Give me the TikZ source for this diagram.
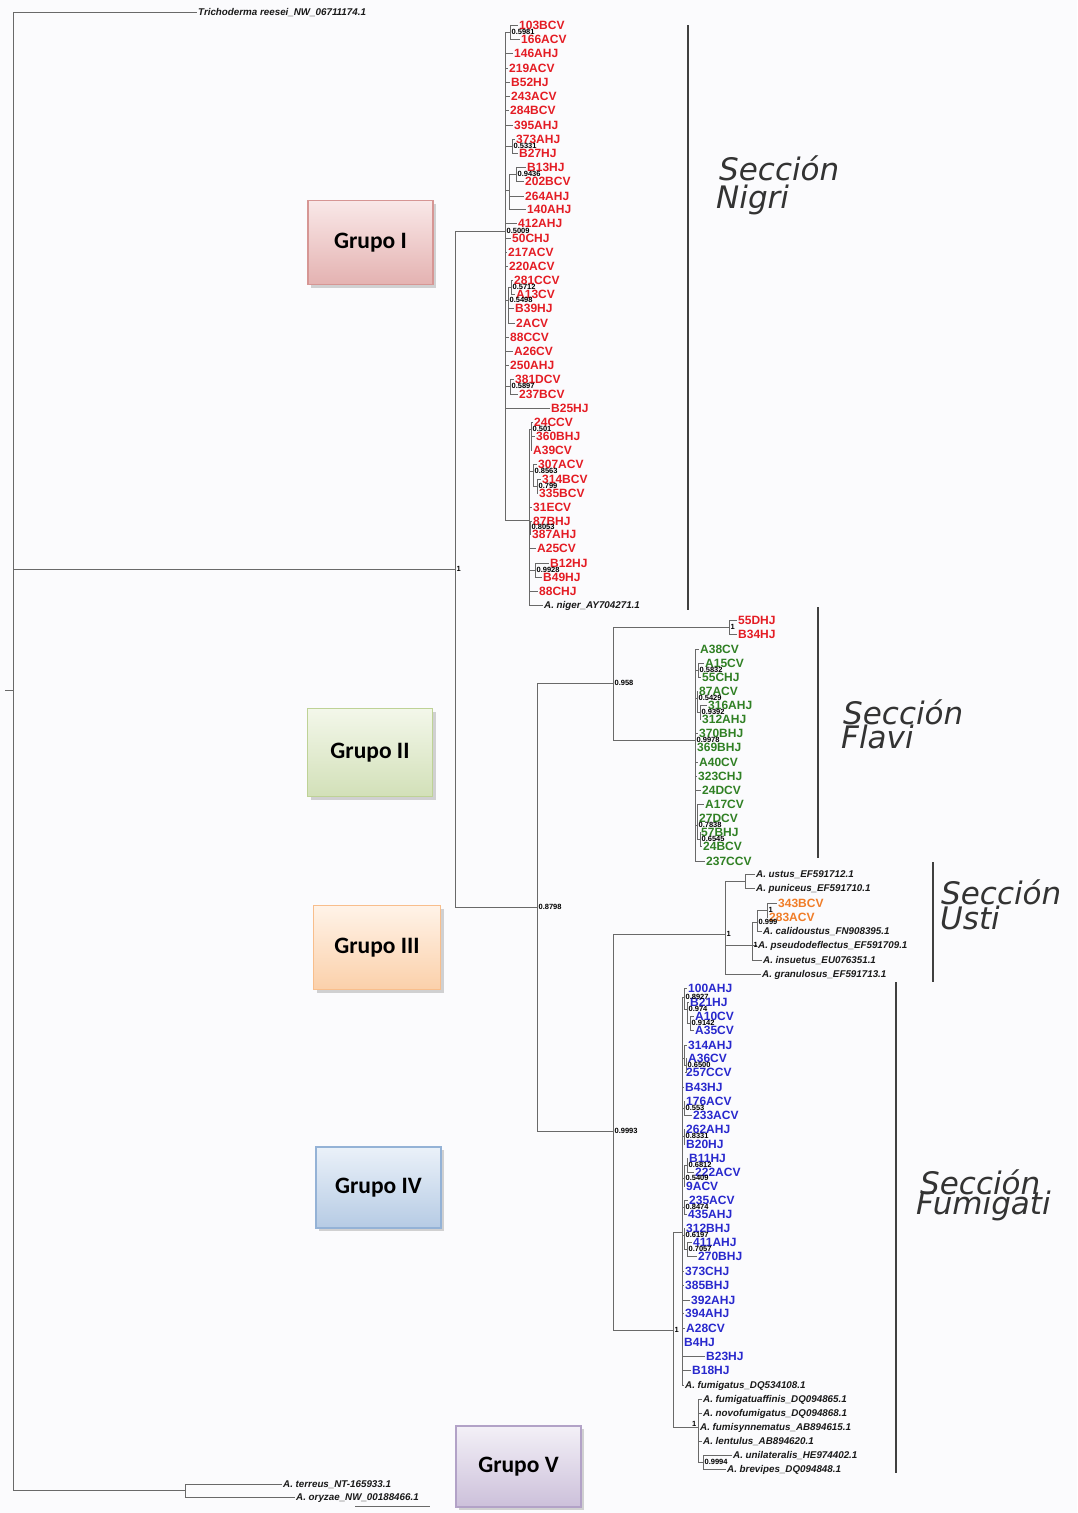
\documentclass[tikz,border=0pt]{standalone}
\usepackage{fontspec}
\setmainfont{Liberation Sans}
\newfontfamily\grupofont{Carlito}
\newfontfamily\seccfont{DejaVu Sans}
\usetikzlibrary{shadows}

\definecolor{paper}{RGB}{251,251,253}
\definecolor{treegray}{RGB}{105,105,105}
\definecolor{isored}{RGB}{228,28,36}
\definecolor{isogreen}{RGB}{48,128,36}
\definecolor{isoblue}{RGB}{40,40,205}
\definecolor{isoorange}{RGB}{240,125,40}
\definecolor{g1top}{RGB}{249,232,232}\definecolor{g1bot}{RGB}{228,178,177}\definecolor{g1line}{RGB}{214,150,148}
\definecolor{g2top}{RGB}{243,247,234}\definecolor{g2bot}{RGB}{210,224,184}\definecolor{g2line}{RGB}{190,210,150}
\definecolor{g3top}{RGB}{255,243,232}\definecolor{g3bot}{RGB}{251,208,170}\definecolor{g3line}{RGB}{248,190,140}
\definecolor{g4top}{RGB}{234,241,249}\definecolor{g4bot}{RGB}{182,203,228}\definecolor{g4line}{RGB}{148,178,214}
\definecolor{g5top}{RGB}{243,240,247}\definecolor{g5bot}{RGB}{204,192,218}\definecolor{g5line}{RGB}{178,162,199}

\tikzset{
	branch/.style={treegray,line width=0.8pt},
	leaf/.style={anchor=west,inner sep=1pt,text height=8.6pt,text depth=0pt,font=\bfseries\fontsize{12}{12}\selectfont},
	redleaf/.style={leaf,text=isored},
	greenleaf/.style={leaf,text=isogreen},
	blueleaf/.style={leaf,text=isoblue},
	orangeleaf/.style={leaf,text=isoorange},
	refleaf/.style={anchor=west,inner sep=1pt,text height=7pt,text depth=0pt,text=black!90,font=\bfseries\itshape\fontsize{9.8}{10}\selectfont},
	boot/.style={anchor=west,inner sep=0.4pt,xshift=1pt,font=\bfseries\fontsize{7.5}{7.5}\selectfont},
	grupo/.style={draw=#1line,line width=1.6pt,top color=#1top,bottom color=#1bot,
		drop shadow={shadow xshift=3pt,shadow yshift=-3pt,fill=black!35},
		font=\grupofont\bfseries\fontsize{23.5}{24}\selectfont,minimum width=125pt,minimum height=84pt},
	seccion/.style={anchor=base west,inner sep=0pt,text=black!80,font=\seccfont\itshape\fontsize{31}{31}\selectfont},
	bar/.style={black!75,line width=1.8pt}
}

\begin{document}
\begin{tikzpicture}[x=1pt,y=-1pt]
	\fill[paper] (0,0) rectangle (1077,1513);
	\useasboundingbox (0,0) rectangle (1077,1513);
	% root of the tree
	\coordinate (root) at (13,690);
	\coordinate (stub) at (5,690);
	\draw[branch] (stub) -- (root);
	% inner nodes: parent/name/x/y
	\foreach \p/\c/\x/\y in {root/asp/455/569, asp/nigri/505/231, nigri/n1/510/32, nigri/n2/512/146,
		nigri/n3/509/190, n3/n4/516/174, nigri/n5/508/300, n5/n6/511/287, nigri/n7/510/386,
		nigri/n8/529/520, n8/n9/531/429, n8/n10/533/471, n10/n11/537/486, n8/n12/530/527,
		n8/n13/535/570, asp/rest/537/907, rest/flv/613/683, flv/pr/729/627, flv/grn/695/740,
		grn/g1/698/670, grn/g2/697/698, g2/g3/700/712, grn/g4/697/825, g4/g5/700/839,
		rest/fu/613/1131, fu/us/725/934, us/u1/745/881, us/um/752/945, um/u2/757/922,
		u2/u3/767/910, fu/fm/673/1330, fm/bl/682/1232, bl/b1/684/997, b1/b2/687/1009,
		b2/b3/690/1023, bl/b4/684/1058, b4/b5/686/1065, bl/b6/684/1108, bl/b7/684/1136,
		bl/b8/684/1178, b8/b9/687/1165, bl/b10/684/1207, bl/b11/684/1235, b11/b12/687/1249,
		fm/lw/698/1427, lw/l1/703/1462, root/outg/185/1490}
	{
		\coordinate (\c) at (\x,\y);
		\draw[branch] (\p) |- (\c);
	}
	% isolates
	\foreach \p/\lab/\x/\y in {n1/103BCV/518/25, n1/166ACV/520/39, nigri/146AHJ/513/53, nigri/219ACV/508/68,
		nigri/B52HJ/510/82, nigri/243ACV/510/96, nigri/284BCV/509/110, nigri/395AHJ/513/125,
		n2/373AHJ/515/139, n2/B27HJ/518/153, n4/B13HJ/526/167, n4/202BCV/524/181, n3/264AHJ/524/196,
		n3/140AHJ/526/209, nigri/412AHJ/517/223, nigri/50CHJ/511/238, nigri/217ACV/507/252,
		nigri/220ACV/508/266, n6/281CCV/513/280, n6/A13CV/515/294, n5/B39HJ/514/308, n5/2ACV/515/323,
		nigri/88CCV/509/337, nigri/A26CV/513/351, nigri/250AHJ/509/365, n7/381DCV/514/379,
		n7/237BCV/518/394, nigri/B25HJ/550/408, n9/24CCV/533/422, n9/360BHJ/535/436, n9/A39CV/532/450,
		n10/307ACV/537/464, n11/314BCV/541/479, n11/335BCV/538/493, n8/31ECV/532/507, n12/87BHJ/532/521,
		n12/387AHJ/531/534, n8/A25CV/536/548, n13/B12HJ/549/563, n13/B49HJ/542/577, n8/88CHJ/538/591,
		pr/55DHJ/737/620, pr/B34HJ/737/634}
	{
		\node[redleaf] (\lab) at (\x,\y) {\lab};
		\draw[branch] (\p) |- (\lab.west);
	}
	\foreach \p/\lab/\x/\y in {grn/A38CV/699/649, g1/A15CV/704/663, g1/55CHJ/701/677, g2/87ACV/698/691,
		g3/316AHJ/707/705, g3/312AHJ/701/719, grn/370BHJ/698/733, grn/369BHJ/696/747, grn/A40CV/698/762,
		grn/323CHJ/697/776, grn/24DCV/701/790, g4/A17CV/704/804, g4/27DCV/698/818, g5/57BHJ/700/832,
		g5/24BCV/702/846, grn/237CCV/705/861}
	{
		\node[greenleaf] (\lab) at (\x,\y) {\lab};
		\draw[branch] (\p) |- (\lab.west);
	}
	\foreach \p/\lab/\x/\y in {u3/343BCV/777/903, u3/283ACV/768/917}
	{
		\node[orangeleaf] (\lab) at (\x,\y) {\lab};
		\draw[branch] (\p) |- (\lab.west);
	}
	\foreach \p/\lab/\x/\y in {b1/100AHJ/687/988, b2/B21HJ/689/1002, b3/A10CV/694/1016, b3/A35CV/694/1030,
		b4/314AHJ/687/1045, b5/A36CV/687/1058, b5/257CCV/685/1072, bl/B43HJ/684/1087, b6/176ACV/685/1101,
		b6/233ACV/692/1115, b7/262AHJ/685/1129, b7/B20HJ/685/1144, b9/B11HJ/688/1158, b9/222ACV/694/1172,
		b8/9ACV/685/1186, b10/235ACV/688/1200, b10/435AHJ/687/1214, b11/312BHJ/685/1228,
		b12/411AHJ/692/1242, b12/270BHJ/697/1256, bl/373CHJ/684/1271, bl/385BHJ/684/1285,
		bl/392AHJ/690/1300, bl/394AHJ/684/1313, bl/A28CV/685/1328, bl/B4HJ/683/1342, bl/B23HJ/705/1356,
		bl/B18HJ/691/1370}
	{
		\node[blueleaf] (\lab) at (\x,\y) {\lab};
		\draw[branch] (\p) |- (\lab.west);
	}
	% reference sequences
	\foreach \p/\nm/\x/\y/\txt in {root/treesei/197/12/Trichoderma reesei\_NW\_06711174.1,
		n8/niger/543/605/A. niger\_AY704271.1,
		u1/ustus/755/874/A. ustus\_EF591712.1,
		u1/puniceus/755/888/A. puniceus\_EF591710.1,
		u2/calidoustus/762/931/A. calidoustus\_FN908395.1,
		um/pseudodeflectus/757/945/A. pseudodeflectus\_EF591709.1,
		um/insuetus/762/960/A. insuetus\_EU076351.1,
		us/granulosus/761/974/A. granulosus\_EF591713.1,
		bl/fumigatus/684/1385/A. fumigatus\_DQ534108.1,
		lw/fumigatuaffinis/702/1399/A. fumigatuaffinis\_DQ094865.1,
		lw/novofumigatus/702/1413/A. novofumigatus\_DQ094868.1,
		lw/fumisynnematus/699/1427/A. fumisynnematus\_AB894615.1,
		lw/lentulus/702/1441/A. lentulus\_AB894620.1,
		l1/unilateralis/732/1455/A. unilateralis\_HE974402.1,
		l1/brevipes/726/1469/A. brevipes\_DQ094848.1,
		outg/terreus/282/1484/A. terreus\_NT-165933.1,
		outg/oryzae/295/1497/A. oryzae\_NW\_00188466.1}
	{
		\node[refleaf] (\nm) at (\x,\y) {\txt};
		\draw[branch] (\p) |- (\nm.west);
	}
	% support values
	\foreach \c/\v in {asp/1, nigri/0.5009, n1/0.5981, n2/0.5331, n4/0.9436, n5/0.5498, n6/0.5712,
		n7/0.5897, n9/0.501, n10/0.8563, n11/0.799, n12/0.8053, n13/0.9928, rest/0.8798, flv/0.958,
		pr/1, grn/0.9978, g1/0.5832, g2/0.5429, g3/0.9392, g4/0.7838, g5/0.6545, fu/0.9993, us/1,
		um/1, u2/0.999, u3/1, fm/1, b1/0.8927, b2/0.974, b3/0.9142, b5/0.6500, b6/0.553, b7/0.8331,
		b8/0.5409, b9/0.6812, b10/0.8474, b11/0.6197, b12/0.7057, l1/0.9994}
	\node[boot] (bs\c) at (\c) {\v};
	\node[boot,anchor=south east,xshift=-2pt] (bslw) at (lw) {1};
	% scale bar
	\coordinate (sbl) at (355,1506);
	\coordinate (sbr) at (430,1506);
	\draw[branch] (sbl) -- (sbr);
	% sections
	\foreach \s/\x/\ya/\yb in {nigri/688/25/610, flavi/818/607/858, usti/933/862/982, fumi/896/982/1473}
	{
		\coordinate (\s top) at (\x,\ya);
		\coordinate (\s bot) at (\x,\yb);
		\draw[bar] (\s top) -- (\s bot);
	}
	\node[seccion] (secnigri) at (719,180) {Sección};
	\node[seccion] (nmnigri) at (716,208) {Nigri};
	\node[seccion] (secflavi) at (843,724) {Sección};
	\node[seccion] (nmflavi) at (841,748) {Flavi};
	\node[seccion] (secusti) at (941,904) {Sección};
	\node[seccion] (nmusti) at (940,929) {Usti};
	\node[seccion] (secfumi) at (920,1194) {Sección};
	\node[seccion] (nmfumi) at (916,1214) {Fumigati};
	% groups
	\node[grupo=g1] (grupoI) at (370.5,242.5) {Grupo I};
	\node[grupo=g2,minimum height=88pt] (grupoII) at (370,752.5) {Grupo II};
	\node[grupo=g3,minimum width=127pt] (grupoIII) at (377,947.5) {Grupo III};
	\node[grupo=g4,minimum height=81pt] (grupoIV) at (378.5,1187.5) {Grupo IV};
	\node[grupo=g5,minimum height=81pt] (grupoV) at (518.5,1466.5) {Grupo V};
\end{tikzpicture}
\end{document}
